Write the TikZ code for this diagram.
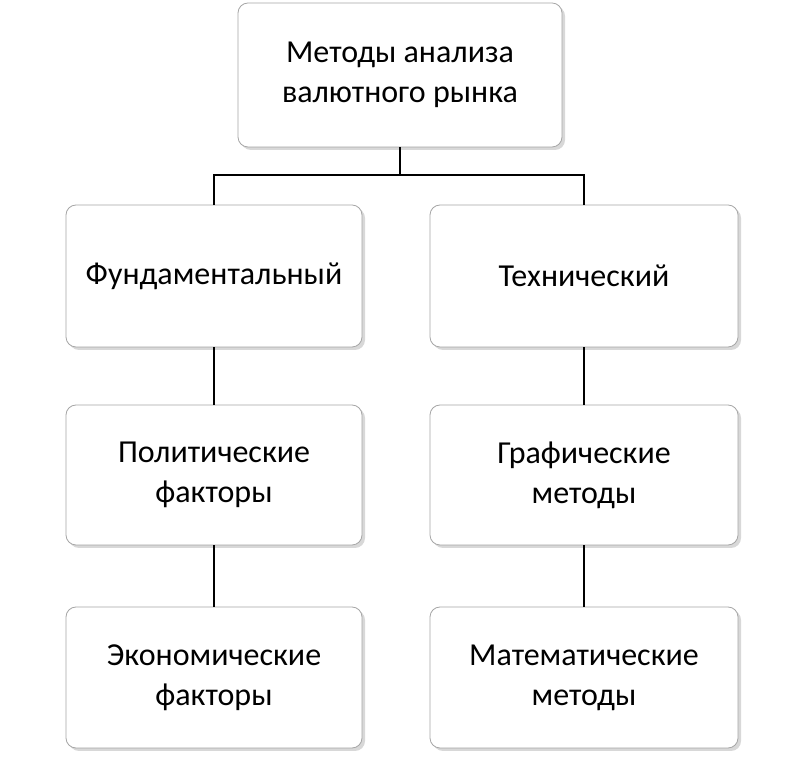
\documentclass[tikz,border=0pt]{standalone}
\usepackage{fontspec}
\setmainfont{Carlito}
\usetikzlibrary{shadows}
\begin{document}
\begin{tikzpicture}[x=1pt,y=1pt,
  box/.style={draw=black!35,line width=0.8pt,rounded corners=10pt,fill=white,
    drop shadow={shadow xshift=3pt,shadow yshift=-3pt,fill=black!30},
    align=center,font=\fontsize{32}{40}\selectfont},
  conn/.style={line width=2.4pt,black}]
\useasboundingbox (0,0) rectangle (800,757);
\fill[white] (0,0) rectangle (800,757);
\node[box,minimum width=324pt,minimum height=144pt] (top) at (400,682) {Методы анализа\\валютного рынка};
\node[box,minimum width=296pt,minimum height=142pt] (l1) at (214,481) {Фундаментальный};
\node[box,minimum width=308pt,minimum height=142pt] (r1) at (584,481) {Технический};
\node[box,minimum width=296pt,minimum height=140pt] (l2) at (214,282) {Политические\\факторы};
\node[box,minimum width=308pt,minimum height=140pt] (r2) at (584,282) {Графические\\методы};
\node[box,minimum width=296pt,minimum height=141pt] (l3) at (214,79.5) {Экономические\\факторы};
\node[box,minimum width=308pt,minimum height=141pt] (r3) at (584,79.5) {Математические\\методы};
\coordinate (mid) at (400,582);
\draw[conn] (top.south) -- (mid);
\draw[conn] (l1.north) |- (mid) -| (r1.north);
\draw[conn] (l1.south) -- (l2.north);
\draw[conn] (l2.south) -- (l3.north);
\draw[conn] (r1.south) -- (r2.north);
\draw[conn] (r2.south) -- (r3.north);
\end{tikzpicture}
\end{document}
